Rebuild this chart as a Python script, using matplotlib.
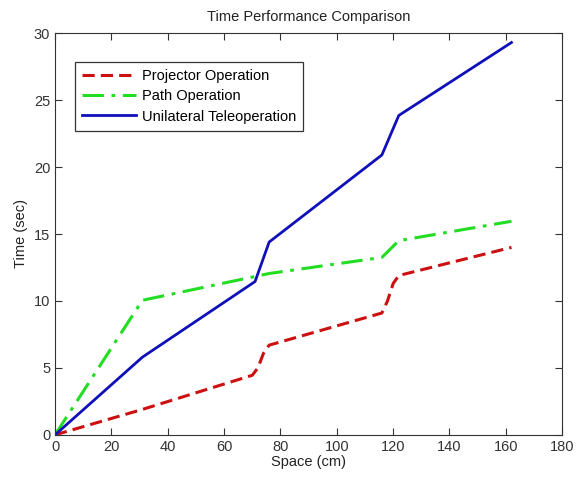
import matplotlib
matplotlib.use("Agg")
import matplotlib.pyplot as plt

# values
proj_x = [0, 31, 70, 72, 74, 76, 116, 118, 120, 122, 162]
proj_y = [0, 1.9, 4.45, 5.0, 6.1, 6.7, 9.1, 10.0, 11.3, 11.9, 14.0]
path_x = [0, 31, 76, 116, 122, 162]
path_y = [0, 10.05, 12.05, 13.25, 14.5, 15.95]
uni_x = [0, 31, 71, 76, 116, 122, 162]
uni_y = [0, 5.8, 11.45, 14.4, 20.9, 23.85, 29.3]

plt.rcParams['font.family'] = ['Liberation Sans', 'DejaVu Sans']
plt.rcParams['font.size'] = 10.5

fig = plt.figure(figsize=(5.79, 4.8), dpi=100)
ax = fig.add_axes([0.095, 0.094, 0.876, 0.837])

ax.plot(proj_x, proj_y, color='#cc1010', lw=2.2, ls=(0, (4, 2)), label='Projector Operation')
ax.plot(path_x, path_y, color='#22dd22', lw=2.2, ls=(0, (7, 2.5, 1.2, 2.5)), label='Path Operation')
ax.plot(uni_x, uni_y, color='#1010bb', lw=2.0, label='Unilateral Teleoperation')

ax.set_xlim(0, 180)
ax.set_ylim(0, 30)
ax.set_xticks(range(0, 181, 20))
ax.set_yticks(range(0, 31, 5))
ax.tick_params(direction='in', top=True, right=True, length=5, colors='#333333', labelsize=10.5)
for s in ax.spines.values():
    s.set_color('#333333')
ax.set_xlabel('Space (cm)', color='#222222', labelpad=1)
ax.set_ylabel('Time (sec)', color='#222222', labelpad=4)
ax.set_title('Time Performance Comparison', color='#222222', fontsize=10.5, pad=9)

leg = ax.legend(loc='upper left', bbox_to_anchor=(0.039, 0.928), borderaxespad=0, fancybox=False,
                framealpha=1, edgecolor='#333333', handlelength=3.7, borderpad=0.5,
                labelspacing=0.42, handletextpad=0.4, fontsize=10.5)
leg.get_frame().set_linewidth(0.9)

fig.savefig('out.png', dpi=100)
